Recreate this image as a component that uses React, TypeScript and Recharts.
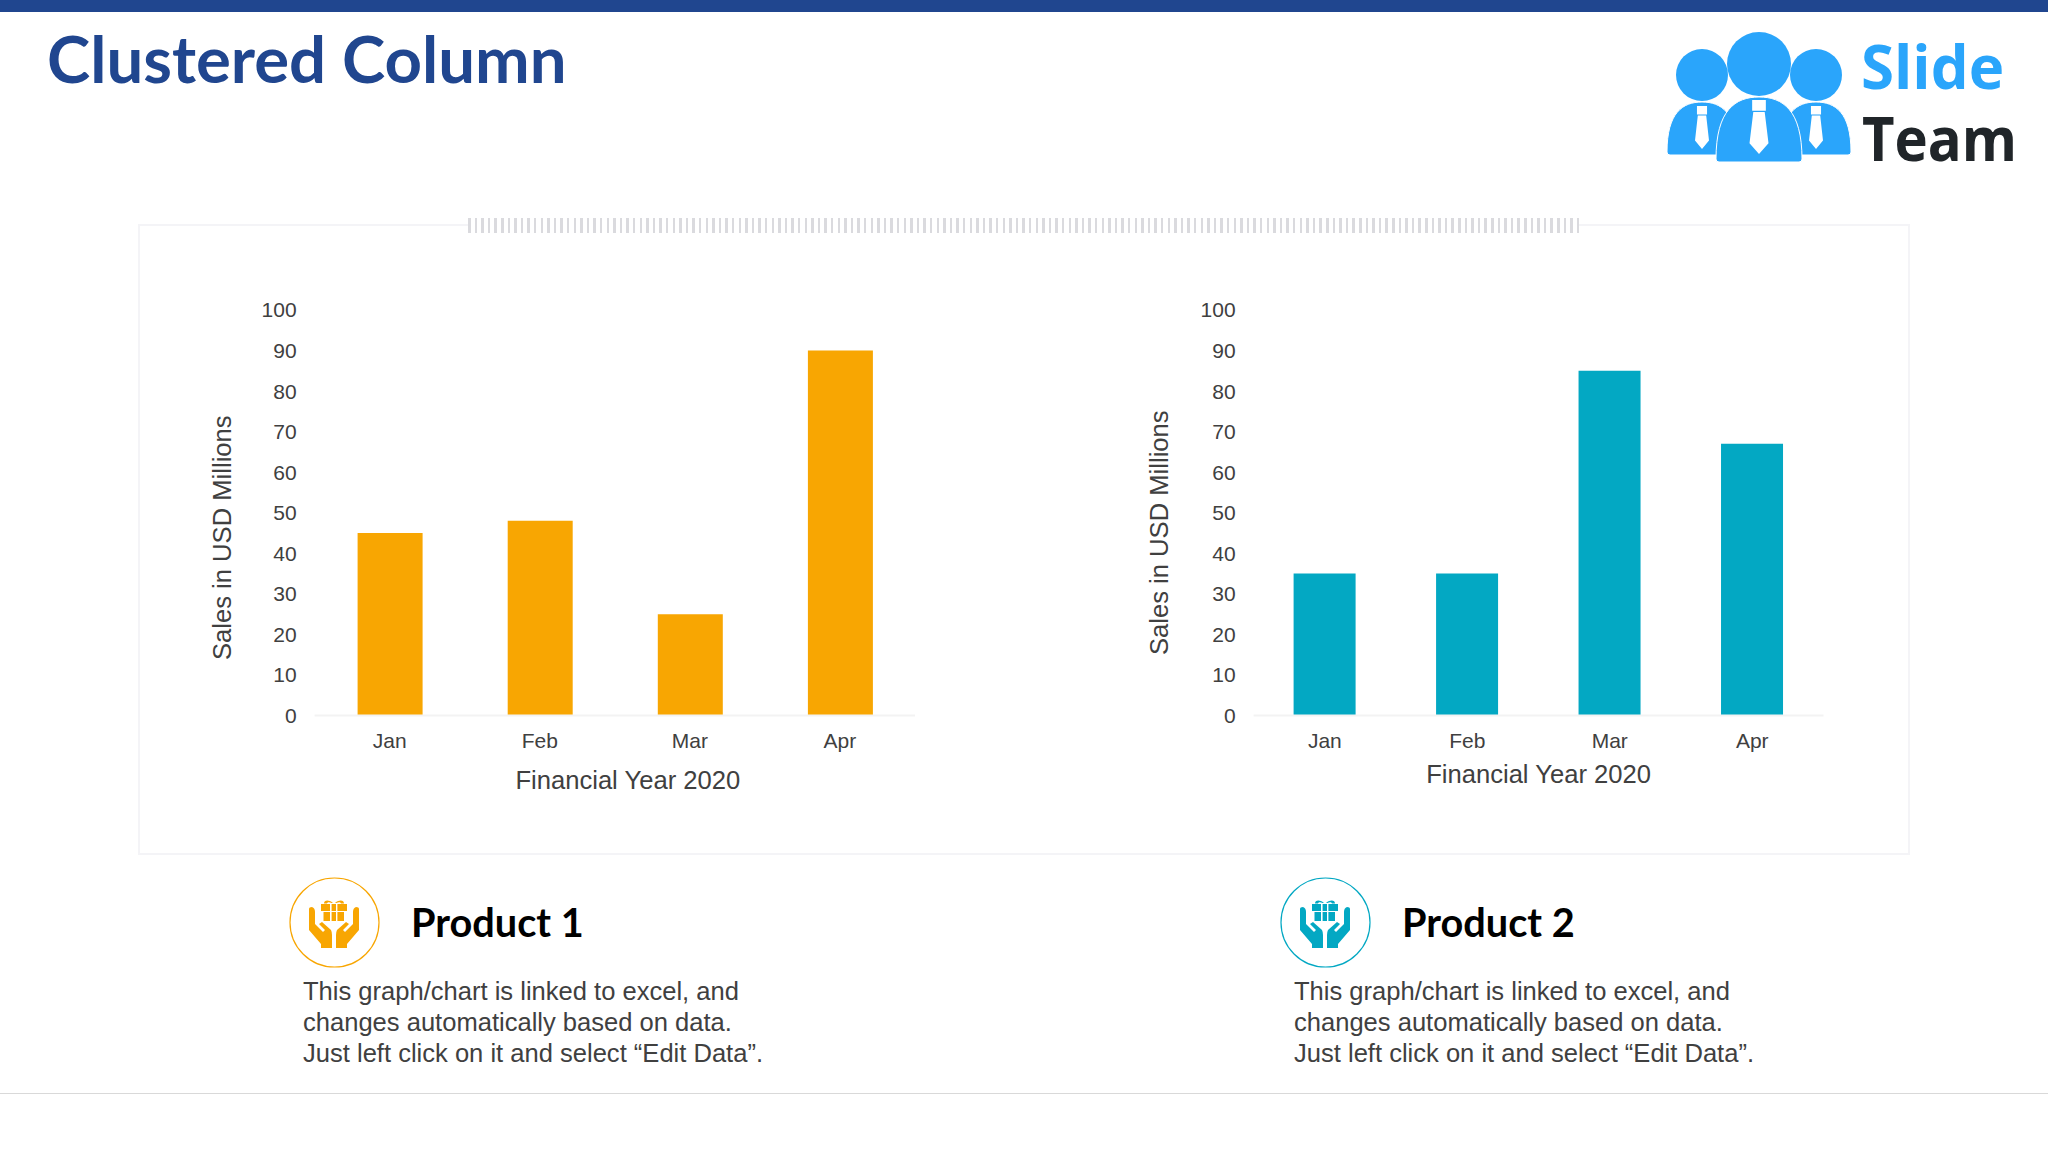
import { BarChart, Bar, XAxis, YAxis } from "recharts";

const months = ["Jan", "Feb", "Mar", "Apr"];
const product1Sales = [45, 48, 25, 90];
const product2Sales = [35, 35, 85, 67];
const valueTicks = [0, 10, 20, 30, 40, 50, 60, 70, 80, 90, 100];
const bodyLines = [
  "This graph/chart is linked to excel, and",
  "changes automatically based on data.",
  "Just left click on it and select “Edit Data”.",
];

const ORANGE = "#F8A602";
const TEAL = "#03A8C3";
const NAVY = "#20468F";
const INK = "#404040";
const LOGO_BLUE = "#2AA5FB";
const ARIAL = "'Liberation Sans', Arial, sans-serif";
const HEADING = "Lato, 'Noto Sans', sans-serif";

function SalesChart({ values, left, width, barSize, color, labelDx, labelDy, yLabelDx, yLabelDy }: {
  values: number[]; left: number; width: number; barSize: number; color: string;
  labelDx: number; labelDy: number; yLabelDx: number; yLabelDy: number;
}) {
  const rows = months.map((month, i) => ({ month, value: values[i] }));
  const tick = { fill: INK, fontSize: 21, fontFamily: ARIAL };
  return (
    <div style={{ position: "absolute", left, top: 280 }}>
      <BarChart width={width} height={530} data={rows} margin={{ top: 30, right: 45, bottom: 0, left: 0 }}>
        <XAxis
          dataKey="month"
          interval={0}
          height={94.5}
          tick={tick}
          tickLine={false}
          tickMargin={12}
          axisLine={{ stroke: "#F3F3F3", strokeWidth: 2 }}
          label={{ value: "Financial Year 2020", position: "insideBottom", offset: 21 + labelDy, dx: labelDx, fill: INK, fontSize: 25.6, fontFamily: ARIAL }}
        />
        <YAxis
          type="number"
          domain={[0, 100]}
          ticks={valueTicks}
          interval={0}
          width={154.6}
          tick={tick}
          tickLine={false}
          axisLine={false}
          tickMargin={12}
          label={{ value: "Sales in USD Millions", angle: -90, position: "insideLeft", dx: yLabelDx, dy: yLabelDy, fill: INK, fontSize: 25.6, fontFamily: ARIAL, style: { textAnchor: "middle" } }}
        />
        <Bar dataKey="value" fill={color} barSize={barSize} isAnimationActive={false} />
      </BarChart>
    </div>
  );
}

function GiftHands({ color }: { color: string }) {
  return (
    <g fill={color}>
      {/* bow */}
      <path d="M-10 -19.500c0-3 4-4.500 9-.5h-1.500c-2-1-4-1-4.500.5zM10 -19.500c0-3-4-4.500-9-.5h1.500c2-1 4-1 4.500.5z" />
      {/* lid and box, the gaps are the ribbon */}
      <path d="M-13 -19h9v7h-9zM-2.400 -19h4.400v7h-4.400zM3.400 -19h9.600v7h-9.600z" />
      <path d="M-10.500 -11h6.500v9h-6.500zM-2.400 -11h4.400v9h-4.400zM3.400 -11h6.600v9h-6.600z" />
      {/* hands */}
      <path d="M-25 -14Q-25 -16 -22 -16Q-19 -15 -19 -11V1L-11 9L-9 7L-15 1L-12 -1L-3 7Q-2 9 -2 12V25H-13V21L-25 7Z" />
      <path d="M25 -14Q25 -16 22 -16Q19 -15 19 -11V1L11 9L9 7L15 1L12 -1L3 7Q2 9 2 12V25H13V21L25 7Z" />
    </g>
  );
}

function Person({ cx, headY, headR, top, bottom, halfW, tieW, tieTop, tieBottom }: {
  cx: number; headY: number; headR: number; top: number; bottom: number; halfW: number; tieW: number; tieTop: number; tieBottom: number;
}) {
  const h = bottom - top;
  const t = tieBottom - tieTop;
  return (
    <g>
      <circle cx={cx} cy={headY} r={headR} fill={LOGO_BLUE} />
      <path
        d={`M${cx - halfW} ${bottom - 3}C${cx - halfW} ${top + h * 0.2} ${cx - halfW * 0.55} ${top} ${cx} ${top}C${cx + halfW * 0.55} ${top} ${cx + halfW} ${top + h * 0.2} ${cx + halfW} ${bottom - 3}Q${cx + halfW} ${bottom} ${cx + halfW - 3} ${bottom}H${cx - halfW + 3}Q${cx - halfW} ${bottom} ${cx - halfW} ${bottom - 3}Z`}
        fill={LOGO_BLUE}
        stroke="#fff"
        strokeWidth={1}
      />
      <path
        d={`M${cx - tieW * 0.36} ${tieTop}h${tieW * 0.72}v${t * 0.2}h${-tieW * 0.72}z M${cx - tieW * 0.3} ${tieTop + t * 0.22}h${tieW * 0.6}L${cx + tieW * 0.5} ${tieTop + t * 0.8}L${cx} ${tieBottom}L${cx - tieW * 0.5} ${tieTop + t * 0.8}z`}
        fill="#fff"
      />
    </g>
  );
}

export default function App() {
  return (
    <div style={{ position: "fixed", left: 0, top: 0, width: 2048, height: 1152, background: "#fff", overflow: "hidden" }}>
      <div style={{ position: "absolute", left: 0, top: 0, width: 2048, height: 12, background: NAVY }} />
      <div style={{ position: "absolute", left: 47, top: 22, fontFamily: HEADING, fontWeight: 700, fontSize: 65.3, lineHeight: "72px", color: NAVY, whiteSpace: "nowrap" }}>
        Clustered Column
      </div>

      <div style={{ position: "absolute", left: 138, top: 224, width: 1772, height: 631, boxSizing: "border-box", border: "2px solid #F4F4F7" }} />
      <div style={{ position: "absolute", left: 468, top: 218, width: 1111, height: 15, background: "repeating-linear-gradient(90deg, #DADADE 0 2.500px, #fff 2.500px 6.600px)" }} />

      <SalesChart values={product1Sales} left={160} width={800} barSize={65} color={ORANGE} labelDx={13} labelDy={0} yLabelDx={57} yLabelDy={25} />
      <SalesChart values={product2Sales} left={1099.2} width={769.5} barSize={62} color={TEAL} labelDx={0} labelDy={6} yLabelDx={55} yLabelDy={20} />

      <svg width={2048} height={1152} style={{ position: "absolute", left: 0, top: 0, pointerEvents: "none" }}>
        <g>
          <Person cx={1702} headY={75} headR={26} top={102} bottom={155} halfW={35} tieW={14} tieTop={106} tieBottom={149} />
          <Person cx={1816} headY={75} headR={26} top={102} bottom={155} halfW={35} tieW={14} tieTop={106} tieBottom={149} />
          <Person cx={1759} headY={64} headR={32} top={97} bottom={162} halfW={43} tieW={19} tieTop={100} tieBottom={154} />
        </g>
        <text x={1861} y={89} fontFamily="'Open Sans', sans-serif" fontWeight={700} fontSize={60} fill={LOGO_BLUE}>Slide</text>
        <text x={1862} y={161} fontFamily="'Open Sans', sans-serif" fontWeight={700} fontSize={60} textLength={155} lengthAdjust="spacingAndGlyphs" fill="#202529">Team</text>

        {[{ cx: 334, color: ORANGE, name: "Product 1", textX: 411, bodyX: 303 }, { cx: 1325, color: TEAL, name: "Product 2", textX: 1402, bodyX: 1294 }].map((p) => (
          <g key={p.name}>
            <circle cx={p.cx + 0.5} cy={922.500} r={44.500} fill="#fff" stroke={p.color} strokeWidth={1.200} />
            <g transform={`translate(${p.cx} 923)`}>
              <GiftHands color={p.color} />
            </g>
            <text x={p.textX} y={937} fontFamily={HEADING} fontWeight={700} fontSize={39.7} fill="#000">{p.name}</text>
            {bodyLines.map((line, i) => (
              <text key={line} x={p.bodyX} y={[1000, 1031, 1062][i]} fontFamily={ARIAL} fontSize={25.55} fill={INK}>{line}</text>
            ))}
          </g>
        ))}
      </svg>

      <div style={{ position: "absolute", left: 0, top: 1093, width: 2048, height: 1, background: "#D9D9D9" }} />
    </div>
  );
}
